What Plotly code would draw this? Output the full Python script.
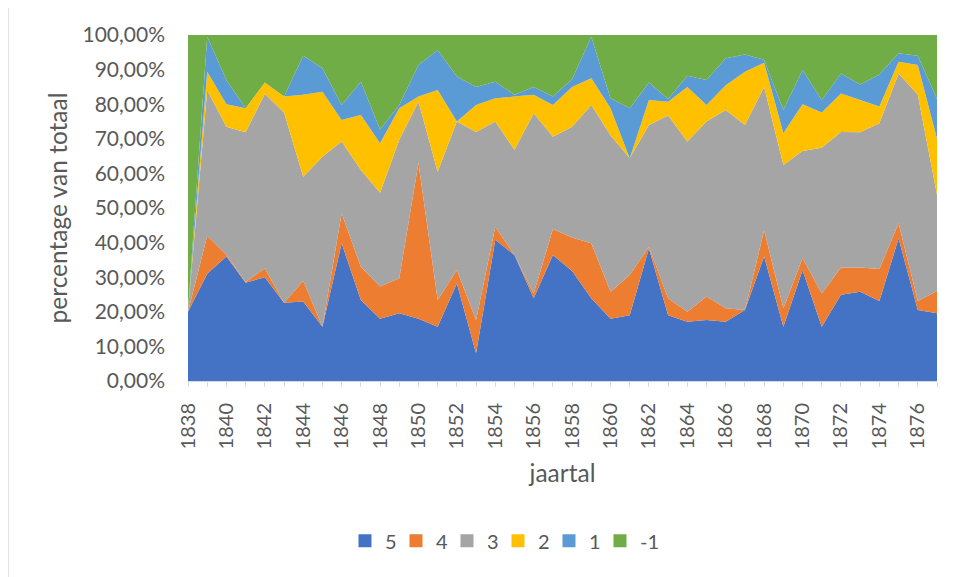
import plotly.graph_objects as go

years = list(range(1838, 1878))

s5 = [20, 31, 36, 28.4, 30, 22.6, 23, 15.7, 39.8, 23.4,
      18, 19.6, 18, 15.7, 28.2, 8, 40.8, 36.4, 23.9, 36.4,
      31.8, 23.9, 18, 19, 38.3, 19, 17.1, 17.6, 17.1, 20.5,
      36, 15.7, 32, 15.7, 24.9, 25.8, 23.1, 41.2, 20.5, 19.6]
s4 = [0, 11, 0.5, 0.2, 2.6, 0, 6, 0, 8.7, 9.6,
      9.3, 10.1, 45, 7.7, 3.9, 9.6, 3.8, 0, 1.4, 7.5,
      9.7, 15.9, 7.8, 11.6, 0.5, 4.9, 2.9, 6.8, 3.9, 0,
      7.6, 5.3, 3.5, 9.6, 7.9, 7, 9.3, 4.4, 2.6, 6.4]
s3 = [0.5, 42, 37, 43.3, 50.4, 55, 30, 49.1, 20.7, 28,
      27.1, 40, 17.7, 37.1, 42.9, 54.4, 30.4, 30.4, 52.1, 26.7,
      32, 40, 45.2, 33.8, 35.2, 52.8, 49.2, 50.6, 57.3, 53.5,
      41.4, 41.4, 31, 42.1, 39.2, 39.1, 42.1, 43.3, 59.6, 27.8]
s2 = [0, 5.4, 6.5, 6.9, 3.3, 4.6, 23.7, 18.8, 6.2, 15.9,
      14.3, 9.1, 1.5, 23.6, 0, 7.8, 6.7, 15.4, 5.3, 9.2,
      11.5, 7.7, 7.8, 0, 7.2, 4, 15.8, 4.8, 7.2, 15.4,
      7, 9.2, 13.5, 10.2, 11.1, 9.3, 4.8, 3.4, 8.6, 16.2]
s1 = [0, 10.1, 7, 0, 0, 0, 11.3, 6.8, 4.4, 9.6,
      4, 1, 9.1, 11.6, 13, 5.2, 4.8, 0.5, 2.3, 2.4,
      2.2, 12, 2.9, 14.4, 5.1, 0.8, 3.2, 7.2, 7.8, 5,
      0.8, 6.7, 9.9, 3.6, 5.8, 4.5, 9.3, 2.4, 2.7, 11.5]
sm1 = [79.5, 0.5, 13, 21.2, 13.7, 17.8, 6, 9.6, 20.2, 13.5,
       27.3, 20.2, 8.7, 4.3, 12, 15, 13.5, 17.3, 15, 17.8,
       12.8, 0.5, 18.3, 21.2, 13.7, 18.5, 11.8, 13, 6.7, 5.6,
       7.2, 21.7, 10.1, 18.8, 11.1, 14.3, 11.4, 5.3, 6, 18.5]

series_names = ["5", "4", "3", "2", "1", "-1"]
series_values = [s5, s4, s3, s2, s1, sm1]
colors = ["#4472C4", "#ED7D31", "#A5A5A5", "#FFC000", "#5B9BD5", "#70AD47"]

y_tickvals = [0, 10, 20, 30, 40, 50, 60, 70, 80, 90, 100]
y_ticktext = ["0,00%", "10,00%", "20,00%", "30,00%", "40,00%", "50,00%",
              "60,00%", "70,00%", "80,00%", "90,00%", "100,00%"]

FONT = "Lato, Carlito, Calibri, sans-serif"
GRAY = "#595959"

fig = go.Figure()
for name, vals, col in zip(series_names, series_values, colors):
    fig.add_trace(go.Scatter(
        x=years, y=vals, name=name, mode="none",
        stackgroup="one", groupnorm="percent",
        fillcolor=col, line=dict(width=0),
        showlegend=False, hoverinfo="x+y+name",
    ))
for name, col in zip(series_names, colors):
    fig.add_trace(go.Scatter(
        x=[None], y=[None], name=name, mode="markers",
        marker=dict(symbol="square", size=13, color=col),
        showlegend=True,
    ))
# blank spacer entry so the last legend label is not clipped
fig.add_trace(go.Scatter(
    x=[None], y=[None], name=" ", mode="markers",
    marker=dict(symbol="square", size=1, color="rgba(0,0,0,0)"),
    showlegend=True, hoverinfo="skip",
))

fig.update_layout(
    width=949, height=569,
    margin=dict(l=180, r=20, t=27, b=196),
    paper_bgcolor="white", plot_bgcolor="white",
    font=dict(family=FONT, color=GRAY, size=20),
    showlegend=True,
    legend=dict(orientation="h", x=0.2096, y=-0.462, xanchor="left", yanchor="middle",
                font=dict(size=20, color=GRAY), itemwidth=30, traceorder="normal",
                entrywidth=6, entrywidthmode="pixels", bgcolor="rgba(0,0,0,0)"),
    xaxis=dict(
        range=[1838, 1877], tick0=1838, dtick=2, tickangle=-90,
        ticks="outside", ticklen=5, tickcolor="#D9D9D9",
        minor=dict(dtick=1, tick0=1838, ticks="outside", ticklen=5, tickcolor="#D9D9D9"),
        showline=True, linecolor="#D9D9D9", linewidth=1,
        showgrid=False, zeroline=False, automargin=False,
        tickfont=dict(size=20, color=GRAY), ticklabelstandoff=8,
        title=dict(text="jaartal", font=dict(size=24.5, color=GRAY), standoff=16),
    ),
    yaxis=dict(
        range=[0, 100], tickvals=y_tickvals, ticktext=y_ticktext,
        showline=False, showgrid=False, zeroline=False, automargin=False,
        ticks="", tickfont=dict(size=21, color=GRAY), ticklabelstandoff=22,
        title=dict(text="percentage van totaal", font=dict(size=24.5, color=GRAY), standoff=7),
    ),
    shapes=[dict(type="rect", xref="paper", yref="paper",
                 x0=-0.2403, x1=1.1, y0=-0.7, y1=1.0867,
                 line=dict(color="#D9D9D9", width=1.5), layer="below")],
)

fig.write_html("out.html")
